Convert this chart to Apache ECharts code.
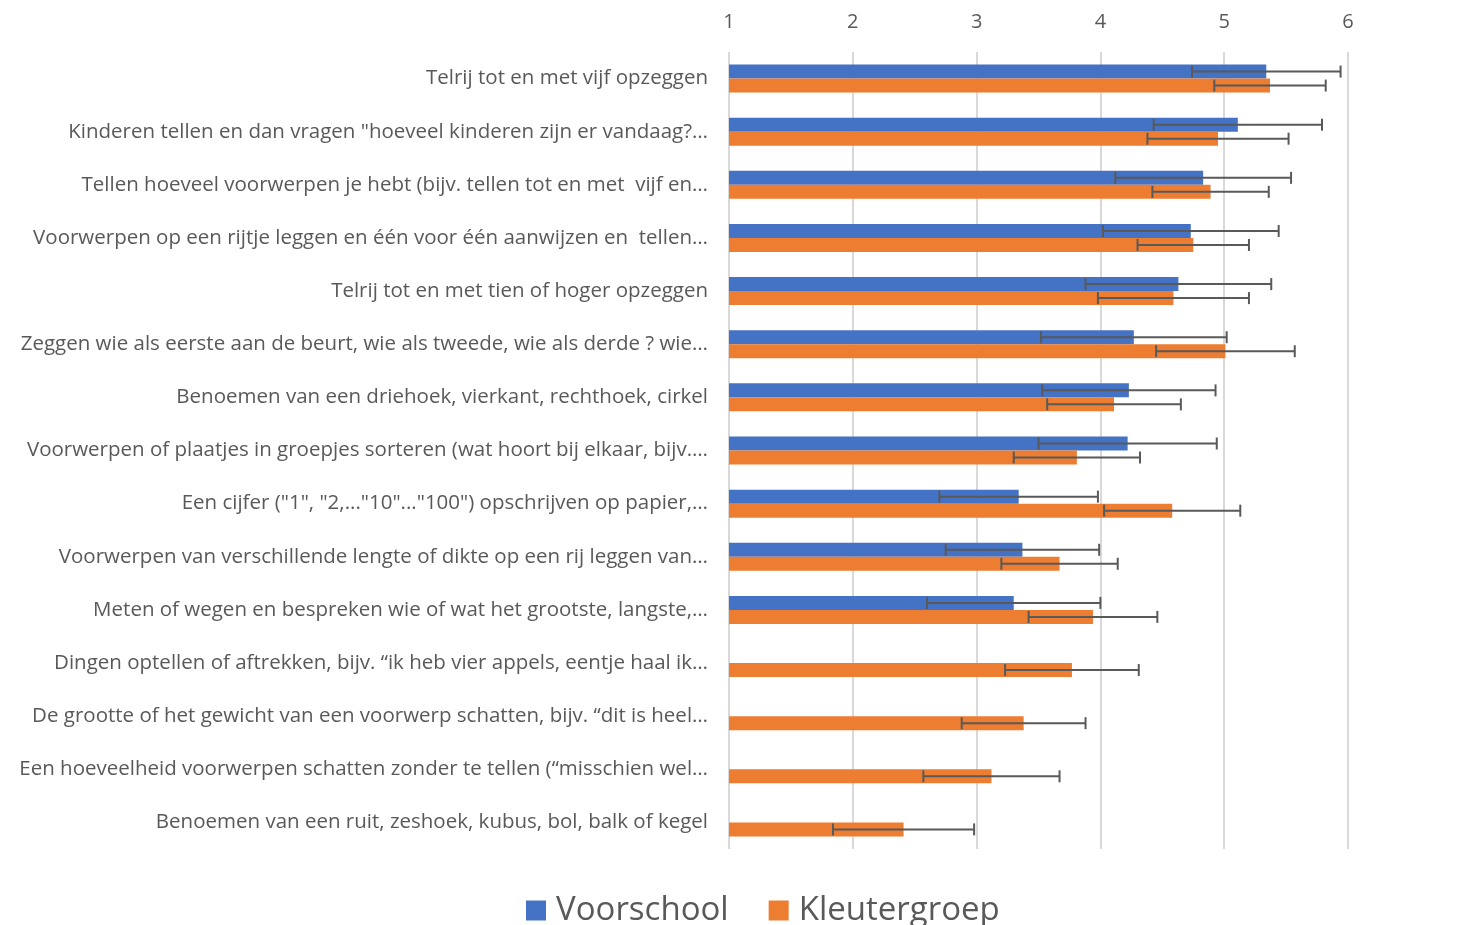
<!DOCTYPE html>
<html>
<head>
<meta charset="utf-8">
<script src="https://cdn.jsdelivr.net/npm/echarts@6/dist/echarts.min.js"></script>
<style>
html,body{margin:0;padding:0;background:#fff;}
#chart{width:1468px;height:925px;}
</style>
</head>
<body>
<div id="chart"></div>
<script>
var categories = [
  'Telrij tot en met vijf opzeggen',
  'Kinderen tellen en dan vragen "hoeveel kinderen zijn er vandaag?…',
  'Tellen hoeveel voorwerpen je hebt (bijv. tellen tot en met  vijf en…',
  'Voorwerpen op een rijtje leggen en één voor één aanwijzen en  tellen…',
  'Telrij tot en met tien of hoger opzeggen',
  'Zeggen wie als eerste aan de beurt, wie als tweede, wie als derde ? wie…',
  'Benoemen van een driehoek, vierkant, rechthoek, cirkel',
  'Voorwerpen of plaatjes in groepjes sorteren (wat hoort bij elkaar, bijv.…',
  'Een cijfer ("1", "2,..."10"..."100") opschrijven op papier,…',
  'Voorwerpen van verschillende lengte of dikte op een rij leggen van…',
  'Meten of wegen en bespreken wie of wat het grootste, langste,…',
  'Dingen optellen of aftrekken, bijv. “ik heb vier appels, eentje haal ik…',
  'De grootte of het gewicht van een voorwerp schatten, bijv. “dit is heel…',
  'Een hoeveelheid voorwerpen schatten zonder te tellen (“misschien wel…',
  'Benoemen van een ruit, zeshoek, kubus, bol, balk of kegel'
];
var voorschool = [5.34, 5.11, 4.83, 4.73, 4.63, 4.27, 4.23, 4.22, 3.34, 3.37, 3.30, null, null, null, null];
var voorschoolErr = [0.60, 0.68, 0.71, 0.71, 0.75, 0.75, 0.70, 0.72, 0.64, 0.62, 0.70, null, null, null, null];
var kleutergroep = [5.37, 4.95, 4.89, 4.75, 4.59, 5.01, 4.11, 3.81, 4.58, 3.67, 3.94, 3.77, 3.38, 3.12, 2.41];
var kleutergroepErr = [0.45, 0.57, 0.47, 0.45, 0.61, 0.56, 0.54, 0.51, 0.55, 0.47, 0.52, 0.54, 0.50, 0.55, 0.57];
var xTicks = [1, 2, 3, 4, 5, 6];

var BAR_W = 14;
function errData(vals, errs) {
  var out = [];
  for (var i = 0; i < vals.length; i++) {
    if (vals[i] != null && errs[i] != null) out.push([i, vals[i] - errs[i], vals[i] + errs[i]]);
  }
  return out;
}
function errRender(offset) {
  return function (params, api) {
    var yi = api.value(0);
    var lo = api.coord([api.value(1), yi]);
    var hi = api.coord([api.value(2), yi]);
    var y = lo[1] + offset;
    var cap = 6;
    var st = {stroke: '#595959', lineWidth: 2};
    return {type: 'group', children: [
      {type: 'line', shape: {x1: lo[0], y1: y, x2: hi[0], y2: y}, style: st},
      {type: 'line', shape: {x1: lo[0], y1: y - cap, x2: lo[0], y2: y + cap}, style: st},
      {type: 'line', shape: {x1: hi[0], y1: y - cap, x2: hi[0], y2: y + cap}, style: st}
    ]};
  };
}

var chart = echarts.init(document.getElementById('chart'));
chart.setOption({
  animation: false,
  textStyle: {fontFamily: 'Open Sans'},
  grid: {left: 729, right: 120, top: 52, bottom: 76, containLabel: false},
  legend: {
    left: 521,
    top: 889,
    itemWidth: 20,
    itemHeight: 20,
    itemGap: 40,
    icon: 'rect',
    formatter: '{a|{name}}',
    textStyle: {fontSize: 33, color: '#595959', fontFamily: 'Open Sans',
      rich: {a: {fontSize: 33, color: '#595959', fontFamily: 'Open Sans', padding: [0, 0, 0, 5]}}},
    data: ['Voorschool', 'Kleutergroep']
  },
  xAxis: {
    type: 'value',
    position: 'top',
    min: 1,
    max: 6,
    interval: 1,
    axisLine: {show: false},
    axisTick: {show: false},
    axisLabel: {fontSize: 20, color: '#595959', margin: 20,
      formatter: function (v) { return xTicks.indexOf(v) >= 0 ? String(v) : ''; }},
    splitLine: {show: true, lineStyle: {color: '#d9d9d9', width: 2}}
  },
  yAxis: {
    type: 'category',
    inverse: true,
    data: categories,
    axisLine: {show: false},
    axisTick: {show: false},
    axisLabel: {fontSize: 20.5, color: '#595959', margin: 21}
  },
  series: [
    {name: 'Voorschool', type: 'bar', data: voorschool, barWidth: BAR_W, barGap: '0%',
      itemStyle: {color: '#4472C4'}},
    {name: 'Kleutergroep', type: 'bar', data: kleutergroep, barWidth: BAR_W, barGap: '0%',
      itemStyle: {color: '#ED7D31'}},
    {name: 'errV', type: 'custom', data: errData(voorschool, voorschoolErr),
      encode: {x: [1, 2], y: 0}, renderItem: errRender(-BAR_W / 2), z: 10, silent: true},
    {name: 'errK', type: 'custom', data: errData(kleutergroep, kleutergroepErr),
      encode: {x: [1, 2], y: 0}, renderItem: errRender(BAR_W / 2), z: 10, silent: true}
  ]
});
</script>
</body>
</html>
